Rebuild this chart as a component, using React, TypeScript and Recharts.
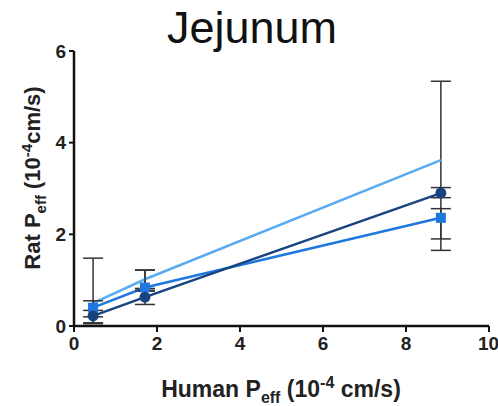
import {
  ComposedChart,
  Line,
  XAxis,
  YAxis,
  ErrorBar,
} from "recharts";

const humanPeff = [0.46, 1.71, 8.84];
const ratLight = [0.5, 1.02, 3.62];
const ratMedium = [0.4, 0.84, 2.36];
const ratDark = [0.22, 0.63, 2.9];
const errLight: [number, number][] = [[0.45, 0.98], [0.2, 0.2], [1.72, 1.72]];
const errMedium: [number, number][] = [[0.2, 0.15], [0.08, 0.38], [0.71, 0.2]];
const errDark: [number, number][] = [[0.15, 0.12], [0.16, 0.15], [0.1, 0.12]];
const xTicks = [0, 2, 4, 6, 8, 10];
const yTicks = [0, 2, 4, 6];

const data = humanPeff.map((x, i) => ({
  x,
  light: ratLight[i],
  medium: ratMedium[i],
  dark: ratDark[i],
  lightErr: errLight[i],
  mediumErr: errMedium[i],
  darkErr: errDark[i],
}));

const FONT = "'Liberation Sans', Arial, sans-serif";

const SquareDot = (props: any) => {
  const { cx, cy, key } = props;
  if (cx == null || cy == null) return <g key={key} />;
  return <rect key={key} x={cx - 5} y={cy - 5} width={10} height={10} fill="#1f78de" />;
};

const CircleDot = (props: any) => {
  const { cx, cy, key } = props;
  if (cx == null || cy == null) return <g key={key} />;
  return <circle key={key} cx={cx} cy={cy} r={5.5} fill="#17437f" />;
};

export default function App() {
  return (
    <div style={{ position: "absolute", left: 0, top: 0, width: 498, height: 406, background: "#fff" }}>
      <div
        style={{
          position: "absolute",
          left: 0,
          width: 504,
          top: 2,
          textAlign: "center",
          fontFamily: FONT,
          fontSize: 45,
          color: "#111",
        }}
      >
        Jejunum
      </div>
      <ComposedChart
        width={498}
        height={406}
        data={data}
        margin={{ top: 51, right: 9, left: 0, bottom: 0 }}
      >
        <XAxis
          type="number"
          dataKey="x"
          domain={[0, 10]}
          ticks={xTicks}
          height={80}
          axisLine={{ stroke: "#111", strokeWidth: 2.5 }}
          tickLine={{ stroke: "#111", strokeWidth: 2 }}
          tickSize={6}
          tickMargin={5}
          tick={{ fill: "#222", fontSize: 19, fontWeight: 700, fontFamily: FONT }}
          label={{
            content: () => (
              <text
                x={281}
                y={397}
                textAnchor="middle"
                fill="#222"
                fontFamily={FONT}
                fontWeight={700}
                fontSize={23}
              >
                Human P<tspan fontSize={16} dy={6}>eff</tspan>
                <tspan dy={-6}> (10</tspan>
                <tspan fontSize={16} dy={-9}>-4</tspan>
                <tspan dy={9}> cm/s)</tspan>
              </text>
            ),
          }}
        />
        <YAxis
          type="number"
          domain={[0, 6]}
          ticks={yTicks}
          width={74}
          axisLine={{ stroke: "#111", strokeWidth: 2.5 }}
          tickLine={{ stroke: "#111", strokeWidth: 2 }}
          tickSize={5}
          tickMargin={3}
          tick={{ fill: "#222", fontSize: 19, fontWeight: 700, fontFamily: FONT }}
          label={{
            content: () => (
              <text
                x={40}
                y={178}
                transform="rotate(-90 40 178)"
                textAnchor="middle"
                fill="#222"
                fontFamily={FONT}
                fontWeight={700}
                fontSize={22}
              >
                Rat P<tspan fontSize={15} dy={6}>eff</tspan>
                <tspan dy={-6}> (10</tspan>
                <tspan fontSize={15} dy={-8}>-4</tspan>
                <tspan dy={8}>cm/s)</tspan>
              </text>
            ),
          }}
        />
        <Line
          type="linear"
          dataKey="light"
          stroke="#5aabf2"
          strokeWidth={2.5}
          dot={false}
          activeDot={false}
          isAnimationActive={false}
        >
          <ErrorBar dataKey="lightErr" direction="y" width={10} stroke="#333" strokeWidth={1.5} />
        </Line>
        <Line
          type="linear"
          dataKey="medium"
          stroke="#1f78de"
          strokeWidth={2.5}
          dot={SquareDot}
          activeDot={false}
          isAnimationActive={false}
        >
          <ErrorBar dataKey="mediumErr" direction="y" width={10} stroke="#333" strokeWidth={1.5} />
        </Line>
        <Line
          type="linear"
          dataKey="dark"
          stroke="#17437f"
          strokeWidth={2.5}
          dot={CircleDot}
          activeDot={false}
          isAnimationActive={false}
        >
          <ErrorBar dataKey="darkErr" direction="y" width={10} stroke="#333" strokeWidth={1.5} />
        </Line>
      </ComposedChart>
    </div>
  );
}
